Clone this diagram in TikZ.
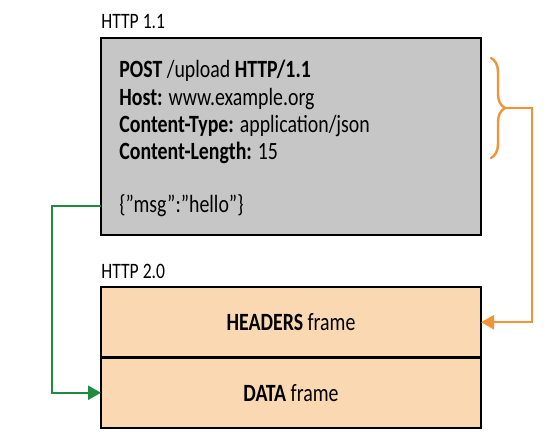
\documentclass[tikz,border=0pt]{standalone}
\usepackage{fontspec}
\setmainfont[FakeStretch=0.8]{Carlito}
\usetikzlibrary{positioning, arrows.meta, decorations.pathreplacing}
\definecolor{reqgray}{HTML}{C6C6C6}
\definecolor{framepeach}{HTML}{FAD9B2}
\definecolor{hdrorange}{HTML}{F39237}
\definecolor{msggreen}{HTML}{1F8B3F}
\tikzset{
  boxline/.style={draw=black, line width=1.3pt, outer sep=0pt},
  reqbox/.style={boxline, fill=reqgray, minimum width=190pt, minimum height=98.5pt},
  framebox/.style={boxline, fill=framepeach, minimum width=190pt, minimum height=35.25pt, font=\fontsize{12.4}{13.6}\selectfont},
  verlabel/.style={inner sep=0pt, font=\fontsize{11}{13}\selectfont},
  reqtext/.style={inner sep=0pt, align=left, font=\fontsize{12.4}{13.65}\selectfont},
  link/.style={line width=1.2pt, -{Triangle[length=6.5pt,width=7pt]}},
}

\begin{document}
\begin{tikzpicture}[x=0.5pt,y=-0.5pt]
\useasboundingbox (0,0) rectangle (557,438);
%%%%%% HTTP 1.1 request
\node[reqbox, anchor=north west] (req) at (101,38) {};
\node[verlabel, anchor=south west] (v11) at ([yshift=4.5pt]req.north west) {HTTP 1.1};
\node[reqtext, anchor=north west] (hdrs) at (119,60) {\textbf{POST} /upload \textbf{HTTP/1.1}\\
  \textbf{Host:} www.example.org\\
  \textbf{Content-Type:} application/json\\
  \textbf{Content-Length:} 15};
\node[reqtext, anchor=base west] (body) at (119,213) {\{”msg”:”hello”\}};
%%%%%% HTTP 2.0 frames
\node[framebox, anchor=north west] (hdr) at (101,287) {\textbf{HEADERS} frame};
\node[framebox, below=0pt of hdr] (data) {\textbf{DATA} frame};
\node[verlabel, anchor=south west] (v20) at ([yshift=4pt]hdr.north west) {HTTP 2.0};
%%%%%% headers -> HEADERS frame
\coordinate (bracetip) at (505,108);
\draw[decorate, decoration={brace, amplitude=7pt}, hdrorange, line width=1.2pt, line cap=round] (491,58) -- (491,158);
\coordinate[right=25.5pt of hdr.east] (orturn);
\draw[link, hdrorange] (bracetip) -| (orturn) -- (hdr.east);
%%%%%% body -> DATA frame
\coordinate[left=24.5pt of data.west] (grturn);
\draw[link, msggreen] (req.west |- body) -| (grturn) -- (data.west);
\end{tikzpicture}
\end{document}
